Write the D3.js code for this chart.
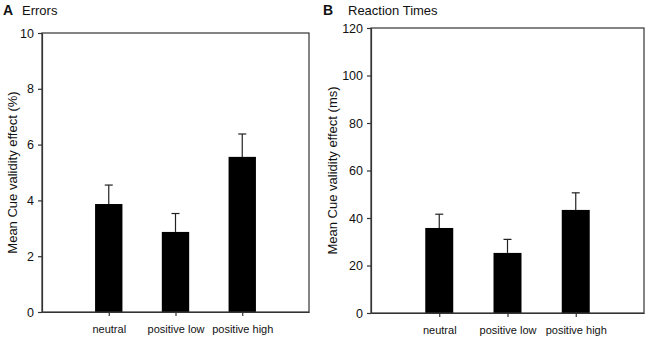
<!DOCTYPE html>
<html lang="en">
  <head>
    <meta charset="utf-8">
    <title>Cue validity effects</title>
    <script src="https://d3js.org/d3.v7.js"></script>
    <style>
      body { margin: 0; background: #fff; }
      text { font-family: "Liberation Sans", Arial, sans-serif; fill: #111; }
    </style>
  </head>

  <body>

  <script>

// Data

  var categories = ["neutral", "positive low", "positive high"];

  var errorMeans = [3.87, 2.87, 5.56];
  var errorSE = [0.68, 0.66, 0.82];
  var errorTicks = [0, 2, 4, 6, 8, 10];

  var rtMeans = [35.8, 25.3, 43.4];
  var rtSE = [5.8, 5.7, 7.2];
  var rtTicks = [0, 20, 40, 60, 80, 100, 120];

  var w = 650;
  var h = 345;

  var svg = d3.select("body")
    .append("svg")
      .attr("width", w)
      .attr("height", h);

// One panel: box, axes, bars and upward error bars

  function drawPanel(p) {

    var xScale = d3.scalePoint()
        .domain(categories)
        .range([p.left, p.right])
        .padding(1);

    var yScale = d3.scaleLinear()
        .domain([0, p.max])
        .range([p.bottom, p.top]);

    var barW = xScale.step() * 0.41;

    var g = svg.append("g");

    var bardata = p.means.map((value, i) => ({cat: categories[i], value, se: p.se[i]}));

    g.selectAll(".bar")
        .data(bardata)
      .enter().append("rect")
        .attr("class", "bar")
        .attr("x", d => xScale(d.cat) - barW / 2)
        .attr("y", d => yScale(d.value))
        .attr("width", barW)
        .attr("height", d => yScale(0) - yScale(d.value))
        .attr("fill", "#000");

    g.selectAll(".err")
        .data(bardata)
      .enter().append("line")
        .attr("class", "err")
        .attr("x1", d => xScale(d.cat))
        .attr("x2", d => xScale(d.cat))
        .attr("y1", d => yScale(d.value))
        .attr("y2", d => yScale(d.value + d.se))
        .attr("stroke", "#222")
        .attr("stroke-width", 1.2);

    g.selectAll(".cap")
        .data(bardata)
      .enter().append("line")
        .attr("class", "cap")
        .attr("x1", d => xScale(d.cat) - 4)
        .attr("x2", d => xScale(d.cat) + 4)
        .attr("y1", d => yScale(d.value + d.se))
        .attr("y2", d => yScale(d.value + d.se))
        .attr("stroke", "#222")
        .attr("stroke-width", 1.2);

    // frame
    g.append("rect")
        .attr("x", p.left)
        .attr("y", p.top)
        .attr("width", p.right - p.left)
        .attr("height", p.bottom - p.top)
        .attr("fill", "none")
        .attr("stroke", "#333")
        .attr("stroke-width", 1.2);

    var yAxis = d3.axisLeft(yScale)
        .tickValues(p.ticks)
        .tickSize(4)
        .tickPadding(4)
        .tickSizeOuter(0);

    var xAxis = d3.axisBottom(xScale)
        .tickSize(4)
        .tickPadding(9)
        .tickSizeOuter(0);

    var ya = g.append("g")
        .attr("transform", `translate(${p.left},0)`)
        .call(yAxis);
    ya.selectAll("text")
        .style("font-size", "12.5px")
        .attr("fill", "#111");

    var xa = g.append("g")
        .attr("transform", `translate(0,${p.bottom})`)
        .call(xAxis);
    xa.selectAll("text")
        .style("font-size", "11px")
        .attr("fill", "#111");

    g.selectAll(".domain, .tick line")
        .attr("stroke", "#333")
        .attr("stroke-width", 1.2);

    g.append("text")
        .attr("transform", `translate(${p.labelX},${(p.top + p.bottom) / 2}) rotate(-90)`)
        .attr("text-anchor", "middle")
        .attr("dy", "0.35em")
        .style("font-size", "13px")
        .text(p.yLabel);

    g.append("text")
        .attr("x", p.letterX)
        .attr("y", 15)
        .style("font-size", "14px")
        .style("font-weight", "bold")
        .text(p.letter);

    g.append("text")
        .attr("x", p.titleX)
        .attr("y", 15)
        .style("font-size", "13px")
        .text(p.title);
  }

  drawPanel({
    means: errorMeans, se: errorSE, ticks: errorTicks, max: 10,
    left: 42, right: 309, top: 33, bottom: 312,
    labelX: 12, letterX: 3, titleX: 22,
    letter: "A", title: "Errors",
    yLabel: "Mean Cue validity effect (%)"
  });

  drawPanel({
    means: rtMeans, se: rtSE, ticks: rtTicks, max: 120,
    left: 371, right: 644, top: 28, bottom: 313,
    labelX: 332, letterX: 323, titleX: 348,
    letter: "B", title: "Reaction Times",
    yLabel: "Mean Cue validity effect (ms)"
  });

  </script>

  </body>

</html>
